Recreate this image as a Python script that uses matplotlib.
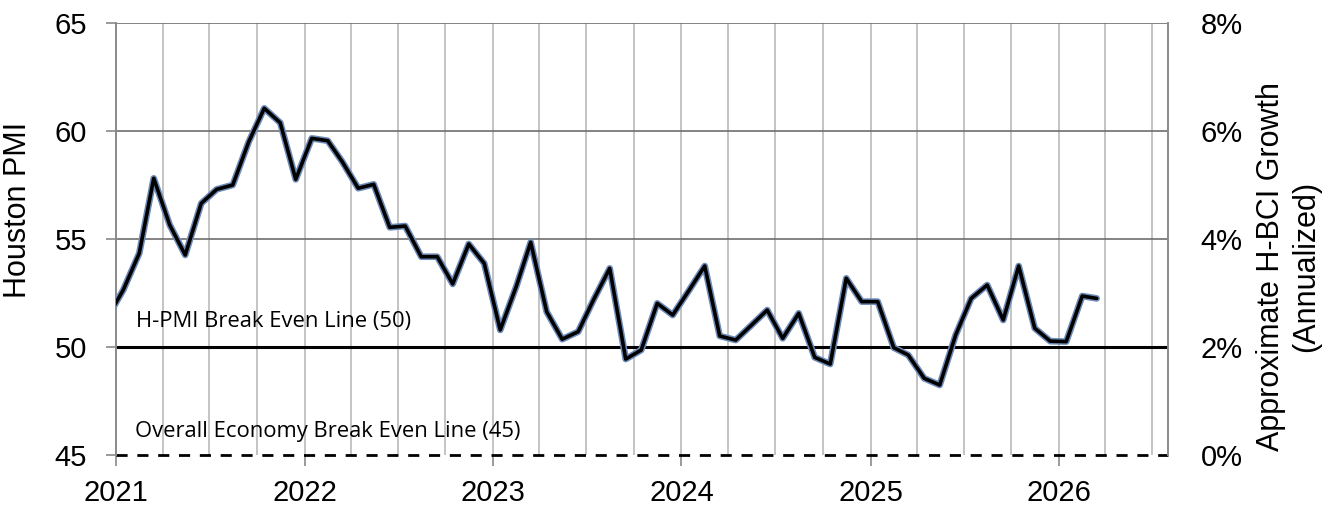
import matplotlib
matplotlib.use('Agg')
import matplotlib.pyplot as plt
import matplotlib.dates as mdates
import matplotlib.patheffects as pe
from matplotlib.ticker import FuncFormatter
import pandas as pd

# Houston PMI, monthly, Dec 2020 - Mar 2026
pmi = [51.35,
       52.64, 54.34, 57.81, 55.65, 54.26, 56.65, 57.30, 57.50, 59.50, 61.05, 60.38, 57.76,
       59.66, 59.55, 58.58, 57.35, 57.53, 55.54, 55.60, 54.18, 54.18, 52.92, 54.77, 53.87,
       50.79, 52.80, 54.85, 51.63, 50.36, 50.71, 52.20, 53.64, 49.44, 49.86, 52.02, 51.48,
       52.60, 53.75, 50.51, 50.32, 51.00, 51.71, 50.40, 51.56, 49.52, 49.21, 53.18, 52.10,
       52.10, 49.97, 49.63, 48.55, 48.24, 50.56, 52.25, 52.87, 51.25, 53.75, 50.87, 50.27,
       50.25, 52.36, 52.25]
months = pd.date_range('2020-12-01', periods=len(pmi), freq='MS') + pd.Timedelta(days=14)

hpmi_even = 50
economy_even = 45
growth_ticks = [0, 2, 4, 6, 8]

plt.rcParams['font.family'] = ['Liberation Sans', 'DejaVu Sans']

fig = plt.figure(figsize=(13.26, 5.09), dpi=100)
ax = fig.add_axes([0.0875, 0.1061, 0.7937, 0.8487])

x0 = pd.Timestamp('2021-01-01')
x1 = pd.Timestamp('2026-08-01')
ax.set_xlim(x0, x1)
ax.set_ylim(45, 65)

# grid
for q in pd.date_range('2021-04-01', '2026-07-01', freq='QS'):
    ax.axvline(q, color='#c4c4c4', lw=1.4, zorder=1)
for y in [55, 60, 65]:
    ax.axhline(y, color='#6e6e6e', lw=1.2, zorder=1)

ax.axhline(hpmi_even, color='black', lw=2.2, zorder=2)
ax.axhline(economy_even, color='black', lw=2.0, ls=(0, (4, 3.5)), zorder=2, clip_on=False)

ax.plot(months, pmi, color='black', lw=2.6, zorder=3,
        solid_joinstyle='round', solid_capstyle='round',
        path_effects=[pe.Stroke(linewidth=4.8, foreground='#6d8bb8',
                                joinstyle='round', capstyle='round'),
                      pe.Normal()])

ax.text(pd.Timestamp('2021-02-08'), 51.2, 'H-PMI Break Even Line (50)',
        fontsize=15.8, va='center', ha='left', family=['Open Sans', 'DejaVu Sans'])
ax.text(pd.Timestamp('2021-02-06'), 46.1, 'Overall Economy Break Even Line (45)',
        fontsize=15.8, va='center', ha='left', family=['Open Sans', 'DejaVu Sans'])

for side in ['top', 'bottom']:
    ax.spines[side].set_visible(False)
for side in ['left', 'right']:
    ax.spines[side].set_color('#8a8a8a')
    ax.spines[side].set_linewidth(1.4)

ax.set_yticks([45, 50, 55, 60, 65])
ax.tick_params(axis='y', direction='out', length=7, width=1.2, color='#8a8a8a',
               labelsize=21, pad=14)
ax.xaxis.set_major_locator(mdates.YearLocator())
ax.xaxis.set_major_formatter(mdates.DateFormatter('%Y'))
ax.tick_params(axis='x', direction='out', length=8, width=1.2, color='#8a8a8a',
               labelsize=21, pad=9)
ax.set_ylabel('Houston PMI', fontsize=22)
ax.yaxis.set_label_coords(-0.079, 0.567)

ax2 = ax.twinx()
ax2.set_ylim(0, 8)
ax2.set_yticks(growth_ticks)
ax2.yaxis.set_major_formatter(FuncFormatter(lambda v, p: '%d%%' % v))
ax2.tick_params(axis='y', length=0, labelsize=21, pad=23)
for side in ['top', 'bottom', 'left', 'right']:
    ax2.spines[side].set_visible(False)
ax2.set_ylabel('Approximate H-BCI Growth\n(Annualized)', fontsize=22, linespacing=1.25)
ax2.yaxis.set_label_coords(1.083, 0.4375)

fig.savefig('out.png', dpi=100)
